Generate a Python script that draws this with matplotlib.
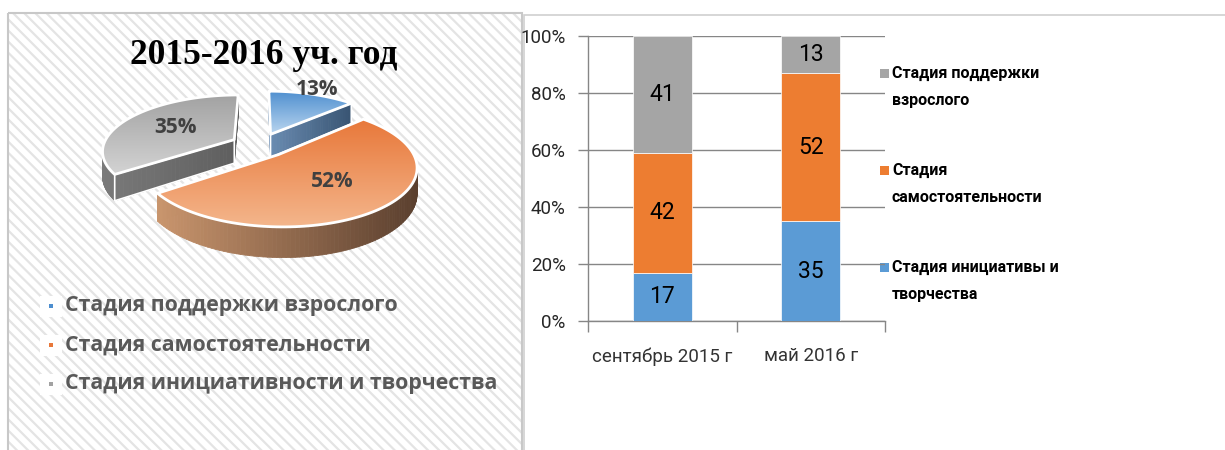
import numpy as np
import matplotlib

matplotlib.use("Agg")
import matplotlib.pyplot as plt
from matplotlib.collections import PolyCollection
from matplotlib.colors import to_rgb
from matplotlib.patches import Polygon, Rectangle

W, H = 1225, 450

# ---- data -----------------------------------------------------------------
PIE_TITLE = "2015-2016 уч. год"
PIE_LABELS = [
    "Стадия поддержки взрослого",
    "Стадия самостоятельности",
    "Стадия инициативности и творчества",
]
PIE_VALUES = [13, 52, 35]

BAR_CATEGORIES = ["сентябрь 2015 г", "май 2016 г"]
INITIATIVE = [17, 35]
INDEPENDENCE = [42, 52]
ADULT_SUPPORT = [41, 13]
BAR_SERIES = [
    "Стадия инициативы и\nтворчества",
    "Стадия\nсамостоятельности",
    "Стадия поддержки\nвзрослого",
]
Y_TICKS = [0, 20, 40, 60, 80, 100]

# ---- style ----------------------------------------------------------------
PIE_TOP = [("#4d8ecf", "#b9d5ef"), ("#e8783a", "#f4b68c"), ("#a2a2a2", "#d3d3d3")]
PIE_SIDE = [("#6b8db3", "#395573"), ("#c9956d", "#5a3f2e"), ("#7a7a7a", "#5e5e5e")]
BAR_COLORS = ["#5b9bd5", "#ed7d31", "#a5a5a5"]
GRID = "#868686"
NARROW = ["Roboto", "DejaVu Sans"]

# 3D pie projection, in pixels of the figure
PIE_CX, PIE_CY = 259.5, 145.0
PIE_RX, PIE_RY = 131.0, 54.8
PERSP = 0.186
EXPLODE = 0.22
DEPTH = 24.0
LABEL_RADII = [1.15, 0.55, 0.55]


def project(x, z):
    d = 1 + PERSP * z
    return PIE_CX + PIE_RX * x / d, PIE_CY - PIE_RY * z / d, d


def blend(c0, c1, t):
    t = np.clip(np.asarray(t, dtype=float), 0, 1)[:, None]
    return (1 - t) * np.array(to_rgb(c0)) + t * np.array(to_rgb(c1))


def side_quads(xs, zs):
    sx, sy, d = project(np.asarray(xs), np.asarray(zs))
    by = sy + DEPTH / d
    quads = [
        [(sx[j], sy[j]), (sx[j + 1], sy[j + 1]), (sx[j + 1], by[j + 1]), (sx[j], by[j])]
        for j in range(len(sx) - 1)
    ]
    return quads, (sx[:-1] + sx[1:]) / 2


def draw_pie(ax):
    total = float(sum(PIE_VALUES))
    cum = np.concatenate([[0], np.cumsum(PIE_VALUES)]) / total
    slices = []
    for i in range(len(PIE_VALUES)):
        a0 = np.deg2rad(90 - 360 * cum[i])
        a1 = np.deg2rad(90 - 360 * cum[i + 1])
        mid = (a0 + a1) / 2
        ox, oz = EXPLODE * np.cos(mid), EXPLODE * np.sin(mid)
        slices.append((i, a0, a1, mid, ox, oz))

    # paint from the back to the front
    slices.sort(key=lambda s: -s[5])
    for rank, (i, a0, a1, mid, ox, oz) in enumerate(slices):
        z = 2 + rank
        th = np.linspace(a0, a1, 120)
        rx, rz = ox + np.cos(th), oz + np.sin(th)

        pieces = []
        q, m = side_quads(rx, rz)
        pieces.append((q, m, False))
        for a, sign in ((a0, 1), (a1, -1)):
            s = np.linspace(0, 1, 30)
            ex, ez = ox + s * np.cos(a), oz + s * np.sin(a)
            q, m = side_quads(ex, ez)
            # outward normal of the cut face, visible if it points to the viewer
            normal = a + sign * np.pi / 2
            pieces.append((q, m, np.sin(normal) < 0))

        allm = np.concatenate([p[1] for p in pieces])
        lo, hi = allm.min(), allm.max()
        for q, m, visible in sorted(pieces, key=lambda p: p[2]):
            cols = blend(PIE_SIDE[i][0], PIE_SIDE[i][1], (m - lo) / max(hi - lo, 1))
            ax.add_collection(PolyCollection(q, facecolors=cols, edgecolors=cols,
                                             linewidths=0.6, zorder=z))
            if visible:
                outline = np.array([q[0][0]] + [p[1] for p in q] + [p[2] for p in q[::-1]] + [q[0][3]])
                ax.add_patch(Polygon(outline, closed=True, fill=False, edgecolor="white",
                                     linewidth=1.2, zorder=z + 0.1))

        # top face with vertical gradient
        vx = np.concatenate([[ox], rx])
        vz = np.concatenate([[oz], rz])
        sx, sy, _ = project(vx, vz)
        verts = np.column_stack([sx, sy])
        poly = Polygon(verts, closed=True, facecolor="none", edgecolor="white",
                       linewidth=2.0, joinstyle="round", zorder=z + 0.3)
        ax.add_patch(poly)
        grad = blend(PIE_TOP[i][0], PIE_TOP[i][1], np.linspace(0, 1, 128))
        img = ax.imshow(grad[:, None, :], extent=(sx.min(), sx.max(), sy.max(), sy.min()),
                        origin="upper", aspect="auto", interpolation="bilinear", zorder=z + 0.2)
        img.set_clip_path(poly)

        lx, ly, _ = project(ox + LABEL_RADII[i] * np.cos(mid), oz + LABEL_RADII[i] * np.sin(mid))
        ax.text(lx, ly, f"{PIE_VALUES[i]}%", ha="center", va="center", fontsize=15,
                fontweight="bold", family="Open Sans", color="#404040", zorder=20)


fig = plt.figure(figsize=(W / 100, H / 100), dpi=100, facecolor="white")

# overlay in pixel coordinates: panels, 3D pie and legends
ov = fig.add_axes([0, 0, 1, 1], facecolor="none")
ov.set_xlim(0, W)
ov.set_ylim(H, 0)
ov.axis("off")

plt.rcParams["hatch.linewidth"] = 1.6
ov.add_patch(Rectangle((8, 13), 514, 460, facecolor="white", edgecolor="#e4e4e4",
                       linewidth=0, hatch="\\\\\\", zorder=0))
ov.add_patch(Rectangle((8, 13), 514, 460, facecolor="none", edgecolor="#c8c8c8",
                       linewidth=1.5, zorder=0.5))
ov.add_patch(Rectangle((524, 15), 720, 460, facecolor="white", edgecolor="#d0d0d0",
                       linewidth=1.2, zorder=0.5))

ov.text(264, 55, PIE_TITLE, ha="center", va="center", fontsize=25.5, fontweight="bold",
        family="Liberation Serif", color="black", zorder=20)
draw_pie(ov)

for k, (label, colors) in enumerate(zip(PIE_LABELS, PIE_TOP)):
    y = 306 + 39 * k
    ov.add_patch(Rectangle((40, y - 10), 22, 21, facecolor="white", edgecolor="none", zorder=1))
    ov.add_patch(Rectangle((49, y - 2), 4, 4, facecolor=colors[0], edgecolor="none", zorder=2))
    ov.text(65, y, label, ha="left", va="center", fontsize=15.3, fontweight="bold",
            family="Open Sans", color="#595959", zorder=2)

# ---- stacked 100% bars ------------------------------------------------------
ax = fig.add_axes([588 / W, 1 - 321 / H, 297 / W, 285 / H], facecolor="none")
x = np.arange(len(BAR_CATEGORIES))
bottom = np.zeros(len(BAR_CATEGORIES))
for vals, color in zip([INITIATIVE, INDEPENDENCE, ADULT_SUPPORT], BAR_COLORS):
    bars = ax.bar(x, vals, 0.4, bottom=bottom, color=color, edgecolor="white",
                  linewidth=0.5, zorder=3)
    ax.bar_label(bars, labels=[str(v) for v in vals], label_type="center", fontsize=16.5,
                 family=NARROW, color="black")
    bottom += np.array(vals)

ax.set_xlim(-0.5, len(BAR_CATEGORIES) - 0.5)
ax.set_ylim(0, 100)
ax.set_yticks(Y_TICKS)
ax.set_yticklabels([f"{v}%" for v in Y_TICKS], family=NARROW, fontsize=13.5, color="#262626")
ax.set_xticks(x)
ax.set_xticklabels(BAR_CATEGORIES, family=NARROW, fontsize=13.5, color="#333333")
ax.set_xticks(np.arange(len(BAR_CATEGORIES) + 1) - 0.5, minor=True)
ax.tick_params(axis="x", which="major", length=0, pad=19)
ax.tick_params(axis="x", which="minor", length=8, color=GRID, width=1)
ax.tick_params(axis="y", length=7, color=GRID, width=1, pad=9)
ax.grid(axis="y", color=GRID, linewidth=1, zorder=0)
for side in ("top", "right"):
    ax.spines[side].set_visible(False)
for side in ("left", "bottom"):
    ax.spines[side].set_color(GRID)
    ax.spines[side].set_linewidth(1)

for k, (label, color) in enumerate(zip(BAR_SERIES[::-1], BAR_COLORS[::-1])):
    y = 73 + 97 * k
    ov.add_patch(Rectangle((880, y - 4.5), 9, 9, facecolor=color, edgecolor="none", zorder=5))
    for j, line in enumerate(label.split("\n")):
        ov.text(892, y + 27 * j, line, ha="left", va="center", fontsize=11.5, fontweight="bold",
                family=NARROW, color="black", zorder=5)

fig.savefig("out.png", dpi=100, facecolor="white")
